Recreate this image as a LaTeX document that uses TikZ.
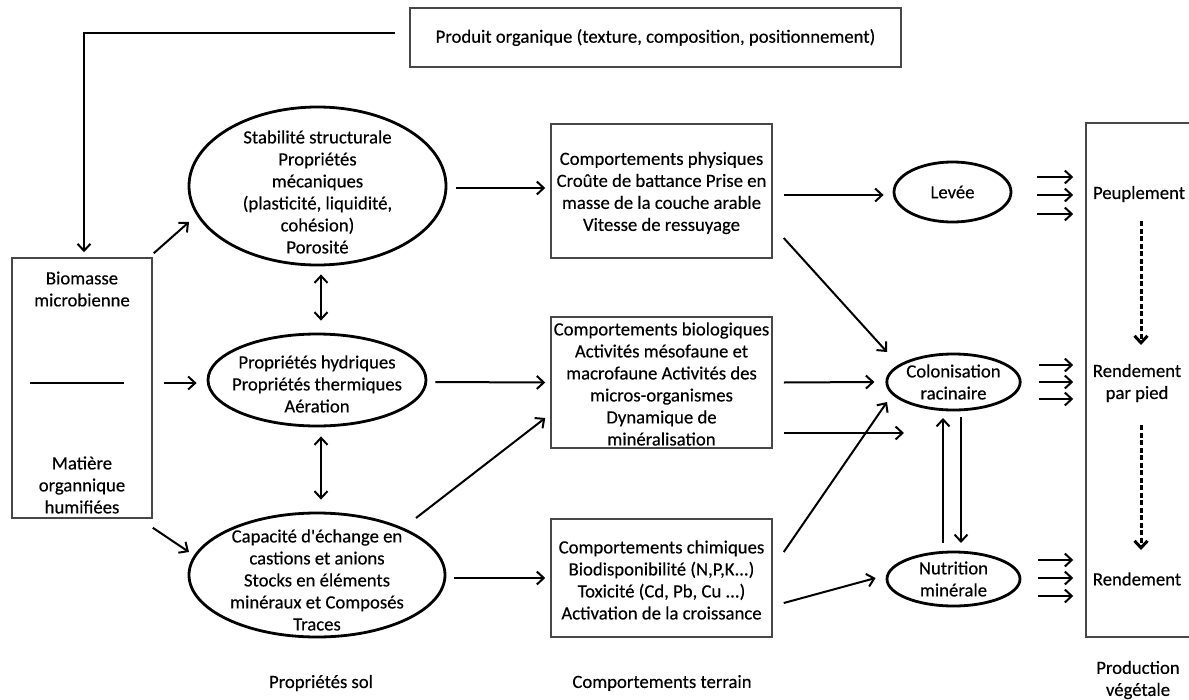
\documentclass[tikz,border=0pt]{standalone}
\usepackage{fontspec}
\setmainfont{Carlito}
\newfontfamily\diagfont{Carlito}[FakeBold=0.35]
\usetikzlibrary{arrows.meta,shapes.geometric,calc}
\tikzset{
  box/.style={draw=black!72, line width=1.5pt, rectangle, inner sep=0pt},
  oval/.style={draw=black, line width=2.8pt, ellipse, inner sep=0pt},
  txt/.style={align=center, inner sep=0pt, font=\diagfont\fontsize{18.7}{22}\selectfont},
  tip/.style={-{Straight Barb[length=7pt,width=13pt]}},
  arr/.style={line width=2pt, tip},
  darr/.style={line width=2pt, {Straight Barb[length=7pt,width=13pt]}-{Straight Barb[length=7pt,width=13pt]}},
  dasharr/.style={arr, line width=3pt, dash pattern=on 5pt off 2.5pt},
}
\begin{document}
\begin{tikzpicture}[x=1pt,y=-1pt]
\useasboundingbox (0,0) rectangle (1189,699);
\clip (0,0) rectangle (1189,699);

% organic input
\node[box, txt, minimum width=491pt, minimum height=59pt] (prod) at (655.5,37.5)
  {Produit organique (texture, composition, positionnement)};

% microbial biomass / humified organic matter
\node[box, minimum width=140pt, minimum height=260pt] (bio) at (82,388) {};
\node[txt] (biot) at (82,289) {Biomasse\\microbienne};
\draw[line width=2pt] ($(bio.center)+(-52,-5)$) -- ($(bio.center)+(42,-5)$);
\node[txt] (matt) at (82,485) {Matière\\organnique\\humifiées};

% soil properties
\node[oval, minimum width=257pt, minimum height=158pt] (e1) at (317.5,186) {};
\node[txt] (e1t) at (317.5,192) {Stabilité structurale\\Propriétés\\mécaniques\\(plasticité, liquidité,\\cohésion)\\Porosité};
\node[oval, minimum width=218pt, minimum height=92pt] (e2) at (317,380) {};
\node[txt] (e2t) at (317,384) {Propriétés hydriques\\Propriétés thermiques\\Aération};
\node[oval, minimum width=256pt, minimum height=124pt] (e3) at (317,575) {};
\node[txt] (e3t) at (317,580) {Capacité d\textquotesingle échange en\\castions et anions\\Stocks en éléments\\minéraux et Composés\\Traces};

% field behaviour
\node[box, minimum width=221pt, minimum height=134pt] (phys) at (661.5,191) {};
\node[txt] (physt) at (661.5,193) {Comportements physiques\\Croûte de battance Prise en\\masse de la couche arable\\Vitesse de ressuyage};
\node[box, minimum width=221pt, minimum height=131pt] (biol) at (661.5,382.5) {};
\node[txt] (biolt) at (661.5,384) {Comportements biologiques\\Activités mésofaune et\\macrofaune Activités des\\micros-organismes\\Dynamique de\\minéralisation};
\node[box, minimum width=221pt, minimum height=118pt] (chim) at (661.5,578) {};
\node[txt] (chimt) at (661.5,580) {Comportements chimiques\\Biodisponibilité (N,P,K...)\\Toxicité (Cd, Pb, Cu ...)\\Activation de la croissance};

% crop processes
\node[oval, txt, minimum width=117pt, minimum height=60pt] (lev) at (952.5,192) {Levée};
\node[oval, txt, minimum width=133pt, minimum height=56pt] (col) at (953.5,382) {Colonisation\\racinaire};
\node[oval, txt, minimum width=133pt, minimum height=54pt] (nut) at (953.5,579) {Nutrition\\minérale};

% plant production
\node[box, minimum width=140pt, minimum height=514pt] (prodv) at (1156,380) {};
\node[txt] (peup) at (1139,194) {Peuplement};
\node[txt] (rpp) at (1137,383) {Rendement\\par pied};
\node[txt] (rend) at (1137,579) {Rendement};

% column captions
\node[txt] (cap1) at (321,683) {Propriétés sol};
\node[txt] (cap2) at (662,683) {Comportements terrain};
\node[txt] (cap3) at (1138,680) {Production\\végétale};

% connectors
\draw[arr, shorten >=5pt] ($(prod.west)+(-14,-4.5)$) -| ($(bio.north)+(2,0)$);
\draw[arr] ($(bio.north east)+(1,-4)$) -- ($(e1.center)+(-128.5,36)$);
\draw[arr] ($(bio.east)+(11,-5)$) -- ($(e2.west)+(-10,3)$);
\draw[arr] ($(bio.south east)+(0,9)$) -- ($(e3.center)+(-128,-23)$);

\draw[arr] ($(e1.east)+(9,2)$) -- ($(phys.west)+(-5,-3)$);
\draw[arr] ($(e2.east)+(8,2)$) -- ($(biol.west)+(-5,0)$);
\draw[arr] ($(e3.east)+(8,3)$) -- ($(chim.west)+(-5,0)$);
\draw[arr] ($(e3.center)+(99,-57)$) -- ($(biol.west)+(-5,35.5)$);
\draw[darr] ($(e1.south)+(3.5,8)$) -- ($(e2.north)+(4,-12)$);
\draw[darr] ($(e2.south)+(4,9)$) -- ($(e3.north)+(4,-12)$);

\draw[arr] ($(phys.east)+(11,4)$) -- ($(lev.west)+(-9,3)$);
\draw[arr] ($(phys.east)+(11,47)$) -- ($(col.center)+(-66.5,-30)$);
\draw[arr] ($(biol.east)+(11,0)$) -- ($(col.west)+(-11,0)$);
\coordinate (colgap) at ($(col.center)+(-49.5,51)$);
\draw[arr] ($(biol.east)+(11,50.5)$) -- (colgap);
\draw[arr] ($(chim.east)+(11,-26)$) -- ($(col.center)+(-66.5,20)$);
\draw[arr] ($(chim.east)+(11,25)$) -- ($(nut.west)+(-10,-1)$);
\draw[arr] ($(nut.center)+(-10.5,-36)$) -- ($(col.center)+(-10.5,36)$);
\draw[arr] ($(col.center)+(7.5,35)$) -- ($(nut.center)+(7.5,-36)$);

\foreach \dy in {-15,3,22}
  \draw[arr] ($(lev.center)+(84.5,\dy)$) -- ($(lev.center -| prodv.west)+(-12,\dy)$);
\foreach \dy in {-17,0,17}
  \draw[arr] ($(col.center)+(85.5,\dy)$) -- ($(col.center -| prodv.west)+(-12,\dy)$);
\foreach \dy in {-19,-1,17}
  \draw[arr] ($(nut.center)+(84.5,\dy)$) -- ($(nut.center -| prodv.west)+(-12,\dy)$);

\draw[dasharr] ($(peup.center)+(2,27)$) -- ($(rpp.center)+(4,-38)$);
\draw[dasharr] ($(rpp.center)+(4,42)$) -- ($(rend.center)+(4,-29)$);
\end{tikzpicture}
\end{document}
